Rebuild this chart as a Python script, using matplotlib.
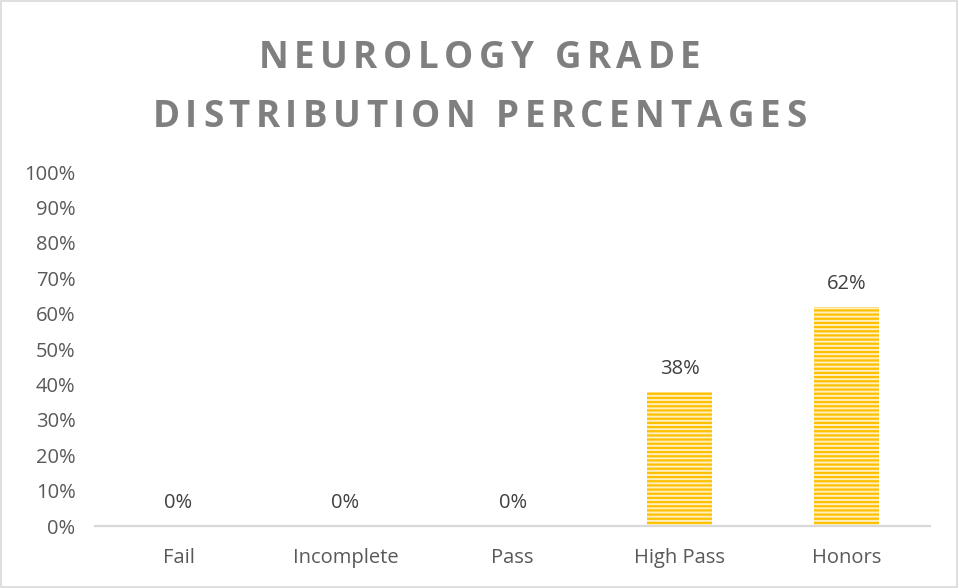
import matplotlib
matplotlib.use("Agg")
import matplotlib.pyplot as plt
from matplotlib.patches import Rectangle

plt.rcParams['font.family'] = ['Open Sans', 'DejaVu Sans']
plt.rcParams['hatch.linewidth'] = 1.6

categories = ["Fail", "Incomplete", "Pass", "High Pass", "Honors"]
values = [0, 0, 0, 38, 62]
labels = ["0%", "0%", "0%", "38%", "62%"]
yticks = [0, 10, 20, 30, 40, 50, 60, 70, 80, 90, 100]
title_lines = ["NEUROLOGY GRADE", "DISTRIBUTION PERCENTAGES"]

fig = plt.figure(figsize=(9.59, 5.88), dpi=100)
ax = fig.add_axes([0.099, 0.1054, 0.871, 0.602])

x = range(len(categories))
bars = ax.bar(x, values, width=0.39, color="#FFF0C0", edgecolor="#FFC000",
              hatch="----", linewidth=0)
for b, lab in zip(bars, labels):
    ax.text(b.get_x() + b.get_width() / 2, b.get_height() + 3.6, lab,
            ha="center", va="bottom", fontsize=14.5, color="#404040")

ax.set_xlim(-0.5, len(categories) - 0.5)
ax.set_ylim(0, 100)
ax.set_yticks(yticks)
ax.set_yticklabels([f"{t}%" for t in yticks])
ax.set_xticks(list(x))
ax.set_xticklabels(categories)
ax.tick_params(axis="both", length=0, labelsize=14.5, colors="#595959")
ax.tick_params(axis="x", pad=16)
ax.tick_params(axis="y", pad=14)
for s in ["top", "right", "left"]:
    ax.spines[s].set_visible(False)
ax.spines["bottom"].set_color("#d9d9d9")
ax.spines["bottom"].set_linewidth(1.6)

# title with letter spacing, drawn char by char
def spaced_text(y, s, size, spacing):
    r = fig.canvas.get_renderer()
    widths = []
    for ch in s:
        t = fig.text(0, 0, ch if ch != " " else "n", fontsize=size, fontweight="bold")
        bb = t.get_window_extent(renderer=r)
        widths.append(bb.width * (0.4 if ch == " " else 1.0))
        t.remove()
    total = sum(widths) + spacing * (len(s) - 1)
    cx = fig.bbox.width / 2 - total / 2
    for ch, w in zip(s, widths):
        if ch != " ":
            fig.text(cx / fig.bbox.width, y, ch, fontsize=size, fontweight="bold",
                     color="#7f7f7f", ha="left", va="baseline")
        cx += w + spacing

spaced_text(1 - 68 / 588, title_lines[0], 26.5, 5.5)
spaced_text(1 - 127 / 588, title_lines[1], 26.5, 5.5)

fig.add_artist(Rectangle((0.001, 0.001), 0.997, 0.997, transform=fig.transFigure,
                         fill=False, edgecolor="#d9d9d9", linewidth=1.2))

fig.savefig("out.png", dpi=100)
